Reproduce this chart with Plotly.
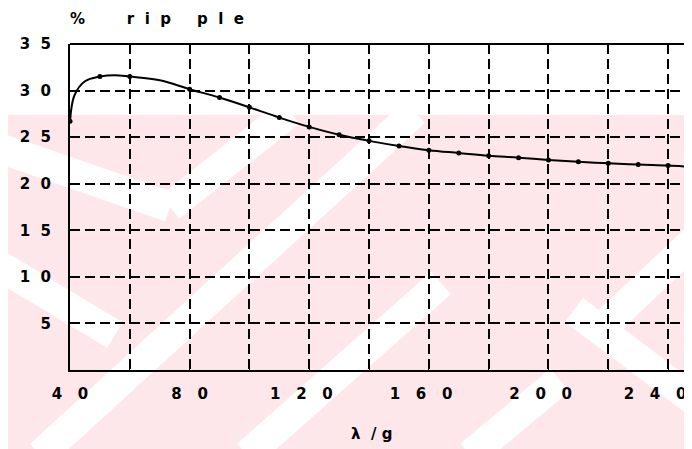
import plotly.graph_objects as go

# marked data points (lambda/g vs % ripple)
lam = [40, 50, 60, 80, 90, 100, 110, 120, 130, 140, 150, 160, 170, 180, 190, 200, 210, 220, 230, 240]
ripple = [26.7, 31.5, 31.5, 30.15, 29.25, 28.2, 27.1, 26.1, 25.25, 24.6, 24.05, 23.6, 23.3, 23.0, 22.8, 22.55, 22.35, 22.2, 22.05, 21.95]

# points on the drawn curve (incl. the steep rise and the run-off to the edge)
curve_x = [40, 41.5, 45, 50, 55, 60, 70, 80, 90, 100, 110, 120, 130, 140, 150, 160, 170, 180, 190, 200, 210, 220, 230, 240, 248]
curve_y = [26.7, 29.5, 31.0, 31.5, 31.65, 31.5, 31.1, 30.15, 29.25, 28.2, 27.1, 26.1, 25.25, 24.6, 24.05, 23.6, 23.3, 23.0, 22.8, 22.55, 22.35, 22.2, 22.05, 21.95, 21.8]

y_ticks = [5, 10, 15, 20, 25, 30, 35]
y_labels = ['5', '1  0', '1  5', '2  0', '2  5', '3  0', '3  5']
x_ticks = [40, 80, 120, 160, 200, 240]
x_labels = ['4   0', '8   0', '1   2   0   ', '1   6   0   ', '2   0   0   ', '2   4   0     ']

# the page puts the figure 8px in from the window corner
OFF = 8
W, H = 692, 449
L, R, T, B = 70 - OFF, OFF, 44 - OFF, 449 - 370 + OFF
FONT = 'DejaVu Sans'


def px(x, y):
    # window pixel position -> paper coords (for decoration / text placement only)
    x, y = x - OFF, y - OFF
    return (x - L) / (W - L - R), (H - B - y) / (H - T - B)


fig = go.Figure()

fig.add_trace(go.Scatter(x=curve_x, y=curve_y, mode='lines', line=dict(color='black', width=2, shape='spline'),
                         hoverinfo='skip', showlegend=False))
fig.add_trace(go.Scatter(x=lam, y=ripple, mode='markers', marker=dict(color='black', size=5),
                         showlegend=False))

# faint pink watermark behind the chart
shapes = []
x0, y0 = px(-5, 115)
x1, y1 = px(W + 10, H + 10)
shapes.append(dict(type='rect', xref='paper', yref='paper', x0=x0, y0=y0, x1=x1, y1=y1,
                   fillcolor='#fde7eb', line_width=0, layer='below'))
stripes = [((-10, 145), (170, 207)), ((170, 207), (290, 112)),
           ((40, 455), (415, 112)),
           ((247, 455), (441, 283)),
           ((596, 333), (700, 235)), ((574, 310), (700, 405)),
           ((470, 455), (560, 380)), ((-10, 260), (115, 335))]
for (a, b) in stripes:
    ax, ay = px(*a)
    bx, by = px(*b)
    shapes.append(dict(type='line', xref='paper', yref='paper', x0=ax, y0=ay, x1=bx, y1=by,
                       line=dict(color='white', width=30), layer='below'))
# top frame line
shapes.append(dict(type='line', xref='paper', yref='paper', x0=0, y0=1, x1=1.02, y1=1,
                   line=dict(color='black', width=2), layer='above'))

tx, ty = px(68, 19)
lx, ly = px(349, 434)
tick_font = dict(family=FONT, size=15, weight='bold')

fig.update_layout(
    width=W, height=H,
    margin=dict(l=L, r=R, t=T, b=B, autoexpand=False),
    paper_bgcolor='white', plot_bgcolor='rgba(0,0,0,0)',
    font=dict(family=FONT, size=15, color='black'),
    shapes=shapes,
    xaxis=dict(range=[40, 248], tickvals=x_ticks, ticktext=x_labels,
               showgrid=True, gridcolor='black', gridwidth=1.5, griddash='10px,5px',
               minor=dict(dtick=20, tick0=40, showgrid=True, gridcolor='black', gridwidth=1.5,
                          griddash='10px,5px', ticks='inside', ticklen=5, tickcolor='black'),
               ticks='inside', ticklen=5, tickcolor='black',
               showline=True, linecolor='black', linewidth=2, zeroline=False,
               ticklabeloverflow='allow', ticklabelstandoff=9, tickfont=tick_font),
    yaxis=dict(range=[0, 35], tickvals=y_ticks, ticktext=y_labels,
               showgrid=True, gridcolor='black', gridwidth=1.5, griddash='10px,5px',
               showline=True, linecolor='black', linewidth=2, zeroline=False,
               ticks='', ticklabelstandoff=14, tickfont=tick_font),
    annotations=[
        dict(text='%' + ' ' * 8 + 'r  i  p' + ' ' * 5 + 'p  l  e', xref='paper', yref='paper', x=tx, y=ty,
             xanchor='left', yanchor='middle', showarrow=False, font=tick_font),
        dict(text='λ  / g', xref='paper', yref='paper', x=lx, y=ly,
             xanchor='left', yanchor='middle', showarrow=False, font=tick_font),
    ],
)

fig.write_html("out.html")
